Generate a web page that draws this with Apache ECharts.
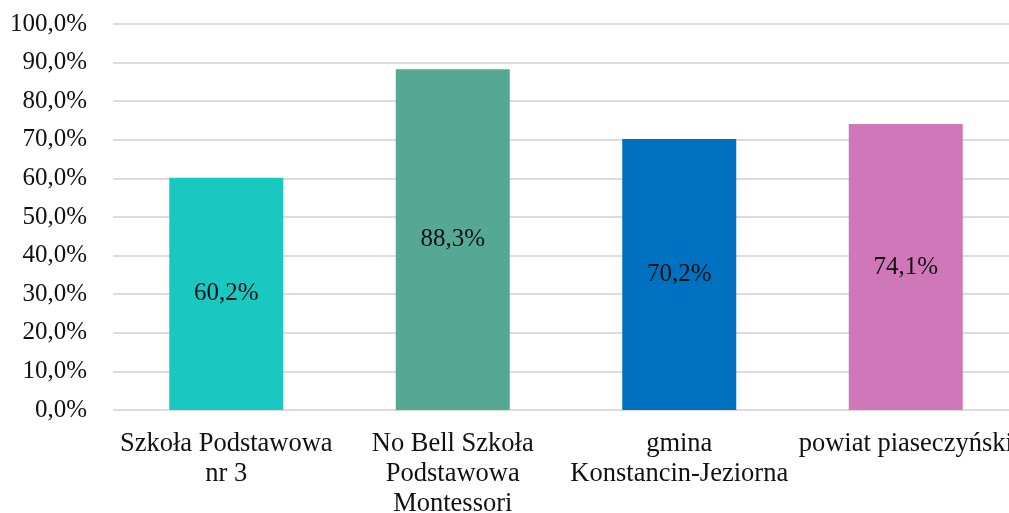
<!DOCTYPE html>
<html>
<head>
<meta charset="utf-8">
<script src="https://cdn.jsdelivr.net/npm/echarts@6/dist/echarts.min.js"></script>
<style>html,body{margin:0;padding:0;background:#fff}#c{width:1009px;height:513px}</style>
</head>
<body>
<div id="c"></div>
<script>
const categories = ["Szkoła Podstawowa\nnr 3", "No Bell Szkoła\nPodstawowa\nMontessori", "gmina\nKonstancin-Jeziorna", "powiat piaseczyński"];
const values = [60.2, 88.3, 70.2, 74.1];
const barColors = ["#19C8C0", "#55A894", "#0070C0", "#D077BA"];
const yTicks = [0, 10, 20, 30, 40, 50, 60, 70, 80, 90, 100];

const fmt = v => v.toFixed(1).replace('.', ',') + '%';
const chart = echarts.init(document.getElementById('c'));
chart.setOption({
  animation: false,
  textStyle: { fontFamily: 'Liberation Serif' },
  grid: { left: 113, width: 906, top: 24, bottom: 103, containLabel: false, outerBoundsMode: 'none' },
  xAxis: {
    type: 'category',
    data: categories,
    axisLine: { show: false },
    axisTick: { show: false },
    axisLabel: { color: '#111', fontSize: 26.5, lineHeight: 30, margin: 19, interval: 0, fontFamily: 'Liberation Serif' }
  },
  yAxis: {
    type: 'value',
    min: yTicks[0], max: yTicks[yTicks.length - 1], interval: 10,
    axisLine: { show: false },
    axisTick: { show: false },
    splitLine: { lineStyle: { color: '#dcdcdc', width: 2 } },
    axisLabel: { color: '#111', fontSize: 25, margin: 26, formatter: v => fmt(v), fontFamily: 'Liberation Serif' }
  },
  series: [{
    type: 'bar',
    barWidth: 114,
    data: values.map((v, i) => ({ value: v, itemStyle: { color: barColors[i] } })),
    label: { show: true, position: 'inside', color: '#111', fontSize: 25, fontFamily: 'Liberation Serif', formatter: p => fmt(p.value) }
  }]
});
</script>
</body>
</html>
